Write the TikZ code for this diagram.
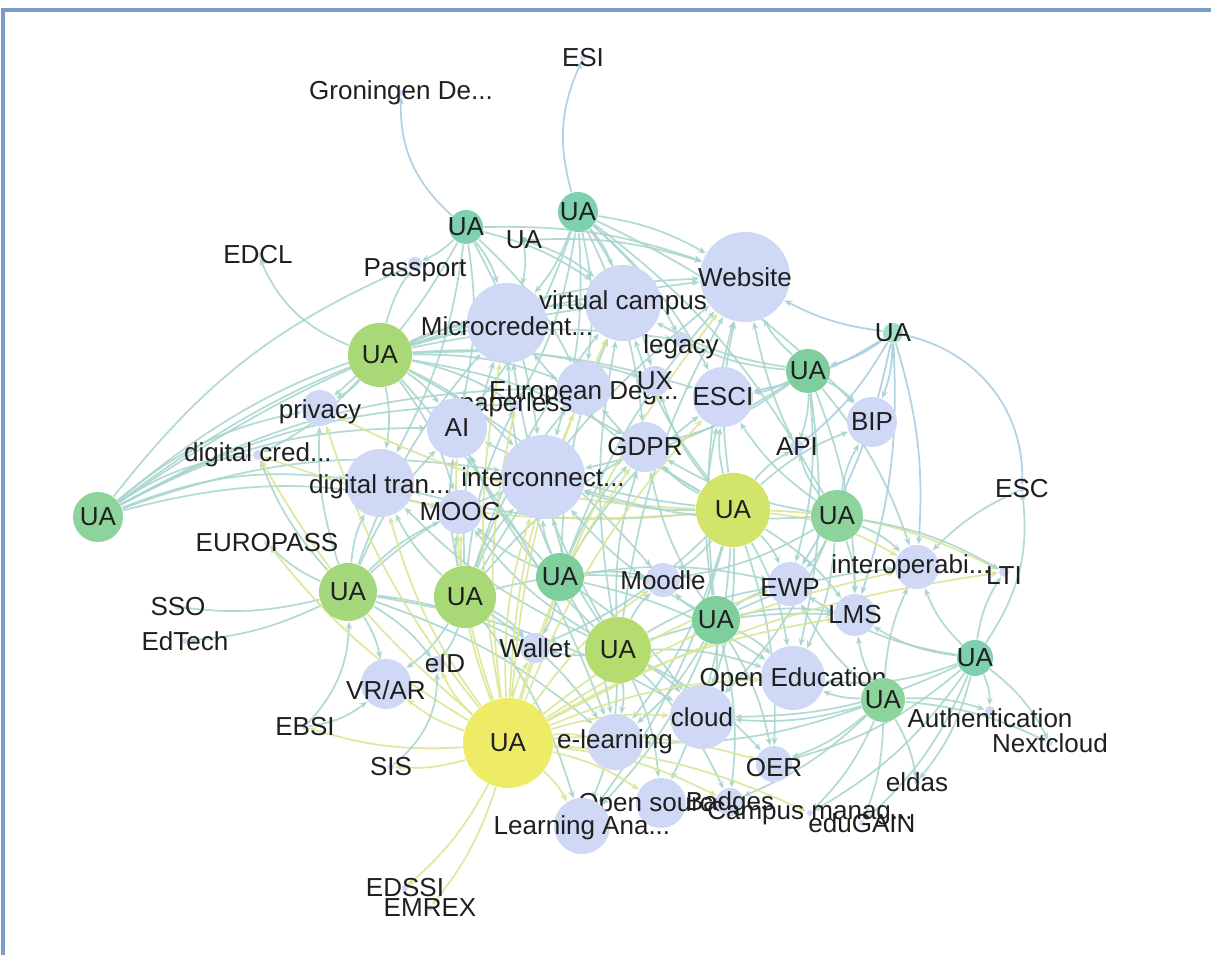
\documentclass[tikz,border=0pt]{standalone}
\usepackage{fontspec}
\setmainfont{Liberation Sans}
\usetikzlibrary{arrows.meta,backgrounds}

\definecolor{topicblue}{RGB}{207,216,245}
\definecolor{uateal}{RGB}{126,208,176}
\definecolor{uagreen}{RGB}{140,212,156}
\definecolor{uamint}{RGB}{127,207,158}
\definecolor{ualime}{RGB}{169,216,118}
\definecolor{uaolive}{RGB}{181,220,110}
\definecolor{uaykg}{RGB}{210,228,106}
\definecolor{uayellow}{RGB}{238,236,103}
\definecolor{edgeteal}{RGB}{166,212,204}
\definecolor{edgeblue}{RGB}{170,206,222}
\definecolor{edgeyellow}{RGB}{218,230,150}
\definecolor{framecol}{RGB}{122,156,198}

\tikzset{
  lbl/.style={font=\fontsize{7.4}{8}\selectfont,text=black!88,inner sep=0pt},
  topic/.style={circle,fill=topicblue,inner sep=0pt,minimum size=#1},
  hub/.style={circle,inner sep=0pt,minimum size=#1,label={[lbl]center:UA}},
  tealedge/.style={draw=edgeteal,line width=0.5pt,opacity=0.85,-{Stealth[length=2.2pt,width=1.8pt]}},
  blueedge/.style={draw=edgeblue,line width=0.5pt,opacity=0.9,-{Stealth[length=2.2pt,width=1.8pt]}},
  yellowedge/.style={draw=edgeyellow,line width=0.5pt,opacity=0.9,-{Stealth[length=2.2pt,width=1.8pt]}}
}

\begin{document}
\begin{tikzpicture}[x=0.01cm,y=-0.01cm]
    \useasboundingbox (0,0) rectangle (1211,955);
    %% Frame
    \draw[framecol,line width=1pt] (3,955) -- (3,10) -- (1211,10);

    %% Topics
    \node[topic=0.9cm,label={[lbl]center:Website}] (web) at (745,277) {};
    \node[topic=0.76cm,label={[lbl]center:virtual campus}] (vc) at (623,303) {};
    \node[topic=0.8cm,label={[lbl,yshift=-1pt]center:Microcredent...}] (micro) at (507,323) {};
    \node[topic=0.16cm,label={[lbl,yshift=-2pt]center:legacy}] (legacy) at (681,340) {};
    \node[topic=0.54cm,label={[lbl,yshift=-1.4pt]center:European Deg...}] (eurdeg) at (584,388) {};
    \node[topic=0.3cm,label={[lbl]center:UX}] (ux) at (655,381) {};
    \node[topic=0.1cm,label={[lbl]center:paperless}] (paper) at (516,405) {};
    \node[topic=0.6cm,label={[lbl]center:ESCI}] (esci) at (723,397) {};
    \node[topic=0.36cm,label={[lbl,yshift=-1pt]center:privacy}] (priv) at (320,408) {};
    \node[topic=0.6cm,label={[lbl]center:AI}] (ai) at (457,428) {};
    \node[topic=0.5cm,label={[lbl]center:BIP}] (bip) at (872,422) {};
    \node[topic=0.5cm,label={[lbl]center:GDPR}] (gdpr) at (645,447) {};
    \node[topic=0.14cm,label={[lbl]center:API}] (api) at (797,447) {};
    \node[topic=0.1cm,label={[lbl]center:digital cred...}] (dcred) at (258,455) {};
    \node[topic=0.68cm,label={[lbl,yshift=-1pt]center:digital tran...}] (dtran) at (380,483) {};
    \node[topic=0.84cm,label={[lbl]center:interconnect...}] (inter) at (543,477) {};
    \node[topic=0.44cm,label={[lbl]center:MOOC}] (mooc) at (460,512) {};
    \node[topic=0.44cm,label={[lbl,xshift=-0.06cm]center:interoperabi...}] (interop) at (917,567) {};
    \node[topic=0.1cm,label={[lbl,yshift=-1pt]center:LTI}] (lti) at (1004,572) {};
    \node[topic=0.34cm,label={[lbl]center:Moodle}] (moodle) at (663,580) {};
    \node[topic=0.44cm,label={[lbl,yshift=-1pt]center:EWP}] (ewp) at (790,584) {};
    \node[topic=0.42cm,label={[lbl]center:LMS}] (lms) at (855,615) {};
    \node[topic=0.3cm,label={[lbl]center:Wallet}] (wallet) at (535,648) {};
    \node[topic=0.5cm,label={[lbl,yshift=-1.7pt]center:VR/AR}] (vrar) at (386,684) {};
    \node[topic=0.16cm,label={[lbl,xshift=0.08cm]center:eID}] (eid) at (437,664) {};
    \node[topic=0.64cm,label={[lbl,yshift=-0.6pt]center:Open Education}] (oe) at (793,678) {};
    \node[topic=0.64cm,label={[lbl]center:cloud}] (cloud) at (702,717) {};
    \node[topic=0.1cm,label={[lbl,yshift=-2pt]center:Authentication}] (auth) at (990,711) {};
    \node[topic=0.06cm,label={[lbl]center:Nextcloud}] (next) at (1050,743) {};
    \node[topic=0.56cm,label={[lbl]center:e-learning}] (elearn) at (615,742) {};
    \node[topic=0.36cm,label={[lbl,yshift=-1pt]center:OER}] (oer) at (774,764) {};
    \node[topic=0.06cm,label={[lbl]center:eldas}] (eldas) at (917,782) {};
    \node[topic=0.5cm,label={[lbl,xshift=-0.08cm,yshift=-0.6pt]center:Open source}] (osrc) at (661,803) {};
    \node[topic=0.28cm,label={[lbl,yshift=-0.4pt]center:Badges}] (badges) at (730,802) {};
    \node[topic=0.06cm,label={[lbl]center:Campus manag...}] (campus) at (810,813) {};
    \node[topic=0.06cm,label={[lbl]center:eduGAIN}] (edugain) at (862,823) {};
    \node[topic=0.56cm,label={[lbl,yshift=-0.6pt]center:Learning Ana...}] (la) at (582,826) {};

    %% Outer terms
    \node[topic=0.06cm,label={[lbl]center:ESI}] (esi) at (583,58) {};
    \node[topic=0.06cm,label={[lbl]center:Groningen De...}] (gron) at (401,93) {};
    \node[topic=0.06cm,label={[lbl]center:EDCL}] (edcl) at (258,255) {};
    \node[topic=0.14cm,label={[lbl,yshift=-1.7pt]center:Passport}] (passport) at (415,264) {};
    \node[topic=0.06cm,label={[lbl]center:ESC}] (esc) at (1022,489) {};
    \node[topic=0.06cm,label={[lbl]center:EUROPASS}] (europass) at (267,543) {};
    \node[topic=0.06cm,label={[lbl]center:SSO}] (sso) at (178,607) {};
    \node[topic=0.06cm,label={[lbl]center:EdTech}] (edtech) at (185,641) {};
    \node[topic=0.06cm,label={[lbl]center:EBSI}] (ebsi) at (305,727) {};
    \node[topic=0.06cm,label={[lbl]center:SIS}] (sis) at (391,767) {};
    \node[topic=0.06cm,label={[lbl]center:EDSSI}] (edssi) at (405,888) {};
    \node[topic=0.06cm,label={[lbl]center:EMREX}] (emrex) at (430,908) {};

    %% UA hubs
    \node[hub=0.5cm,fill=uagreen] (uaW) at (98,517) {};
    \node[hub=0.34cm,fill=uateal] (uaN1) at (466,227) {};
    \node[hub=0.4cm,fill=uateal] (uaN2) at (578,212) {};
    \node[hub=0.06cm,fill=uateal] (uaN3) at (524,240) {};
    \node[hub=0.64cm,fill=ualime] (uaNW) at (380,355) {};
    \node[hub=0.44cm,fill=uamint] (uaNE) at (808,371) {};
    \node[hub=0.2cm,fill=uateal!70!white] (uaE1) at (893,333) {};
    \node[hub=0.74cm,fill=uaykg] (uaC) at (733,510) {};
    \node[hub=0.52cm,fill=uagreen] (uaE2) at (837,516) {};
    \node[hub=0.58cm,fill=ualime!85!uagreen] (uaL) at (348,592) {};
    \node[hub=0.62cm,fill=ualime] (uaM) at (465,597) {};
    \node[hub=0.48cm,fill=uamint] (uaM2) at (560,577) {};
    \node[hub=0.48cm,fill=uamint] (uaM3) at (716,620) {};
    \node[hub=0.66cm,fill=uaolive] (uaS) at (618,650) {};
    \node[hub=0.36cm,fill=uateal] (uaE3) at (975,658) {};
    \node[hub=0.44cm,fill=uagreen] (uaE4) at (883,700) {};
    \node[hub=0.9cm,fill=uayellow] (uaY) at (508,743) {};

    %% Links
    \begin{scope}[on background layer]
        \foreach \t in {priv,dcred,dtran,micro,vc,web,passport,inter,mooc,ai,eurdeg,paper}
            \draw[tealedge] (uaW) to[bend left=14] (\t);
        \draw[blueedge] (uaN2) to[bend left=20] (esi);
        \draw[blueedge] (uaN1) to[bend left=25] (gron);
        \foreach \t in {web,vc,micro,legacy,esci,eurdeg,gdpr,inter,ux,bip,api,paper,ai}
            \draw[tealedge] (uaN2) to[bend left=10] (\t);
        \foreach \t in {micro,vc,passport,ai,dtran,priv,eurdeg,inter,web}
            \draw[tealedge] (uaN1) to[bend left=10] (\t);
        \foreach \t in {micro,vc,web}
            \draw[tealedge] (uaN3) to[bend left=10] (\t);
        \foreach \t in {priv,dcred,dtran,ai,micro,eurdeg,inter,mooc,vc,web,paper,passport,gdpr,esci,legacy,ux,moodle,elearn}
            \draw[tealedge] (uaNW) to[bend left=10] (\t);
        \draw[tealedge] (uaNW) to[bend left=22] (edcl);
        \foreach \t in {bip,api,esci,web,inter,interop,lms,ewp,gdpr,vc,oe,legacy}
            \draw[tealedge] (uaNE) to[bend left=10] (\t);
        \draw[blueedge] (uaE1) to[bend left=40] (esc);
        \foreach \t in {bip,interop,web,esci,api,lms,ewp,uaNE}
            \draw[blueedge] (uaE1) to[bend left=10] (\t);
        \draw[tealedge] (esc) to[bend right=10] (interop);
        \foreach \t in {gdpr,esci,inter,web,vc,micro,moodle,ewp,lms,oe,cloud,elearn,la,osrc,eurdeg,ai,dtran,bip,api,wallet,oer,ux}
            \draw[tealedge] (uaC) to[bend left=10] (\t);
        \foreach \t in {interop,lti,priv,dcred}
            \draw[yellowedge] (uaC) to[bend left=12] (\t);
        \foreach \t in {interop,lms,ewp,bip,api,esci,oe,web,gdpr,cloud,inter,moodle,lti}
            \draw[tealedge] (uaE2) to[bend left=10] (\t);
        \foreach \t in {dtran,dcred,vrar,eid,inter,micro,mooc,ai,priv,wallet,sso,edtech,europass,cloud,elearn}
            \draw[tealedge] (uaL) to[bend left=10] (\t);
        \draw[tealedge] (ebsi) to[bend right=20] (uaL);
        \draw[tealedge] (ebsi) to[bend right=15] (vrar);
        \foreach \t in {dtran,inter,micro,mooc,ai,vrar,eid,wallet,elearn,la,moodle,gdpr,vc,eurdeg,web,paper}
            \draw[tealedge] (uaM) to[bend left=10] (\t);
        \foreach \t in {inter,moodle,gdpr,mooc,micro,wallet,cloud,elearn,oe,ewp,esci,vc,web,ai}
            \draw[tealedge] (uaM2) to[bend left=10] (\t);
        \foreach \t in {moodle,ewp,lms,oe,cloud,gdpr,esci,inter,oer,elearn,la,badges,web,interop}
            \draw[tealedge] (uaM3) to[bend left=10] (\t);
        \foreach \t in {cloud,elearn,oe,wallet,moodle,inter,gdpr,la,osrc,oer,mooc,micro,ewp,badges,dtran,ai,vc,web,lms}
            \draw[tealedge] (uaS) to[bend left=10] (\t);
        \foreach \t in {auth,next,lms,interop,oe,eldas,edugain,lti,campus,oer,cloud,ewp}
            \draw[tealedge] (uaE3) to[bend left=12] (\t);
        \draw[tealedge] (uaE3) to[bend right=20] (esc);
        \foreach \t in {oe,lms,interop,auth,cloud,oer,eldas,edugain,campus,ewp,badges,elearn,next}
            \draw[tealedge] (uaE4) to[bend left=10] (\t);
        \foreach \t in {sis,edssi,emrex,ebsi,europass,vrar,eid,wallet,elearn,la,osrc,cloud,inter,dtran,mooc,ai,micro,eurdeg,gdpr,moodle,oe,oer,badges,campus,paper,vc,web,esci,ewp,lms,interop,lti,priv,dcred}
            \draw[yellowedge] (uaY) to[bend left=10] (\t);
        \draw[tealedge] (sis) to[bend right=25] (eid);
    \end{scope}
\end{tikzpicture}
\end{document}
